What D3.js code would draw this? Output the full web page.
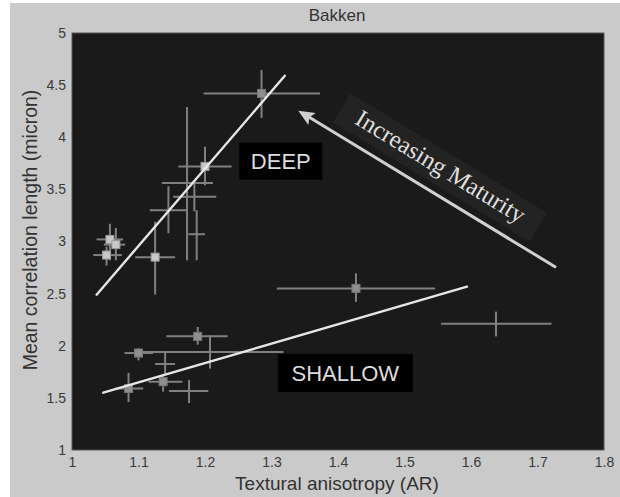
<!DOCTYPE html>
<html>
<head>
<meta charset="utf-8">
<script src="https://cdn.jsdelivr.net/npm/d3@7"></script>
<style>
  html, body { margin: 0; padding: 0; background: #ffffff; }
  svg { display: block; }
</style>
</head>
<body>
<svg id="chart" width="620" height="497"></svg>
<script>
// Deep samples: mean values and error-bar limits
const deepX    = [1.285, 1.200, 1.173, 1.184, 1.145, 1.1875, 1.125, 1.057, 1.066, 1.052];
const deepY    = [4.42, 3.72, 3.56, 3.43, 3.30, 3.07, 2.85, 3.02, 2.97, 2.87];
const deepXLo  = [1.198, 1.160, 1.135, 1.152, 1.117, 1.175, 1.095, 1.037, 1.048, 1.032];
const deepXHi  = [1.373, 1.240, 1.212, 1.217, 1.172, 1.200, 1.155, 1.077, 1.080, 1.075];
const deepYLo  = [4.185, 3.54, 2.82, 3.29, 3.08, 2.82, 2.49, 2.82, 2.82, 2.77];
const deepYHi  = [4.645, 3.91, 4.29, 3.57, 3.53, 3.30, 3.19, 3.17, 3.13, 2.95];
const deepMarked = [1, 2, 0, 0, 0, 0, 2, 2, 2, 2];

// Shallow samples
const shallowX   = [1.189, 1.100, 1.2075, 1.140, 1.137, 1.176, 1.085, 1.427, 1.6376];
const shallowY   = [2.09, 1.93, 1.94, 1.825, 1.655, 1.566, 1.59, 2.55, 2.21];
const shallowXLo = [1.142, 1.079, 1.100, 1.125, 1.115, 1.146, 1.065, 1.308, 1.555];
const shallowXHi = [1.234, 1.122, 1.318, 1.155, 1.166, 1.205, 1.107, 1.546, 1.721];
const shallowYLo = [2.01, 1.86, 1.78, 1.72, 1.56, 1.45, 1.46, 2.42, 2.09];
const shallowYHi = [2.18, 1.975, 2.10, 1.94, 1.72, 1.67, 1.74, 2.695, 2.327];
const shallowMarked = [1, 1, 0, 0, 1, 0, 1, 1, 0];

// Trend lines (end points)
const deepFitX = [1.037, 1.320];
const deepFitY = [2.49, 4.59];
const shallowFitX = [1.047, 1.594];
const shallowFitY = [1.55, 2.567];

// Maturity arrow (tail -> head)
const arrowX = [1.7263, 1.3403];
const arrowY = [2.758, 4.255];

// Axis ticks
const xTicks = [1, 1.1, 1.2, 1.3, 1.4, 1.5, 1.6, 1.7, 1.8];
const yTicks = [1, 1.5, 2, 2.5, 3, 3.5, 4, 4.5, 5];
const xTickLabels = ["1", "1.1", "1.2", "1.3", "1.4", "1.5", "1.6", "1.7", "1.8"];
const yTickLabels = ["1", "1.5", "2", "2.5", "3", "3.5", "4", "4.5", "5"];

const svg = d3.select("#chart");
const W = 620, H = 497;
const plot = { left: 72, right: 604, top: 33, bottom: 450 };

// figure background
svg.append("rect").attr("x", 10).attr("y", 3).attr("width", W - 10).attr("height", H - 3)
  .attr("fill", "#cacaca");

const x = d3.scaleLinear().domain([1, 1.8]).range([plot.left, plot.right]);
const y = d3.scaleLinear().domain([1, 5]).range([plot.bottom, plot.top]);

// axes frame
svg.append("rect")
  .attr("x", plot.left).attr("y", plot.top)
  .attr("width", plot.right - plot.left).attr("height", plot.bottom - plot.top)
  .attr("fill", "#1a1a1a").attr("stroke", "#555").attr("stroke-width", 1);

const font = "'Liberation Sans', Arial, sans-serif";

const xAxis = d3.axisBottom(x).tickValues(xTicks)
  .tickFormat((d, i) => xTickLabels[i]).tickSize(0).tickPadding(7);
const gx = svg.append("g").attr("transform", `translate(0,${plot.bottom})`).call(xAxis);
gx.select(".domain").remove();
gx.selectAll("text").attr("font-family", font).attr("font-size", 14).attr("fill", "#3a3a3a");

const yAxis = d3.axisLeft(y).tickValues(yTicks)
  .tickFormat((d, i) => yTickLabels[i]).tickSize(0).tickPadding(6);
const gy = svg.append("g").attr("transform", `translate(${plot.left},0)`).call(yAxis);
gy.select(".domain").remove();
gy.selectAll("text").attr("font-family", font).attr("font-size", 14).attr("fill", "#3a3a3a");

// title and axis titles
svg.append("text").attr("x", 337).attr("y", 21)
  .attr("text-anchor", "middle").attr("font-family", font).attr("font-size", 17)
  .attr("fill", "#333").text("Bakken");
svg.append("text").attr("x", 337).attr("y", 490)
  .attr("text-anchor", "middle").attr("font-family", font).attr("font-size", 19)
  .attr("fill", "#333").text("Textural anisotropy (AR)");
svg.append("text")
  .attr("transform", "translate(37,230) rotate(-90)")
  .attr("text-anchor", "middle").attr("font-family", font).attr("font-size", 19.5)
  .attr("fill", "#333").text("Mean correlation length (micron)");

const layer = svg.append("g");

function drawSet(xs, ys, xlo, xhi, ylo, yhi, marked) {
  const pts = xs.map((v, i) => ({ x: v, y: ys[i], xl: xlo[i], xh: xhi[i], yl: ylo[i], yh: yhi[i], m: marked[i] }));
  const g = layer.append("g");
  g.selectAll("line.h").data(pts).join("line")
    .attr("x1", d => x(d.xl)).attr("x2", d => x(d.xh))
    .attr("y1", d => y(d.y)).attr("y2", d => y(d.y))
    .attr("stroke", "#808080").attr("stroke-width", 2);
  g.selectAll("line.v").data(pts).join("line")
    .attr("x1", d => x(d.x)).attr("x2", d => x(d.x))
    .attr("y1", d => y(d.yl)).attr("y2", d => y(d.yh))
    .attr("stroke", "#808080").attr("stroke-width", 2);
  g.selectAll("rect.mk").data(pts.filter(d => d.m > 0)).join("rect")
    .attr("x", d => x(d.x) - 4).attr("y", d => y(d.y) - 4)
    .attr("width", 8).attr("height", 8)
    .attr("fill", d => d.m === 2 ? "#c8c8c8" : "#8e8e8e")
    .attr("stroke", d => d.m === 2 ? "#9a9a9a" : "#777")
    .attr("stroke-width", 1);
}

drawSet(deepX, deepY, deepXLo, deepXHi, deepYLo, deepYHi, deepMarked);
drawSet(shallowX, shallowY, shallowXLo, shallowXHi, shallowYLo, shallowYHi, shallowMarked);

// trend lines
[[deepFitX, deepFitY], [shallowFitX, shallowFitY]].forEach(([fx, fy]) => {
  layer.append("line")
    .attr("x1", x(fx[0])).attr("y1", y(fy[0]))
    .attr("x2", x(fx[1])).attr("y2", y(fy[1]))
    .attr("stroke", "#e6e6e6").attr("stroke-width", 2.4).attr("stroke-linecap", "round");
});

// group labels in black boxes
function boxLabel(cx, cy, w, h, txt) {
  const px = x(cx), py = y(cy);
  layer.append("rect").attr("x", px - w / 2).attr("y", py - h / 2)
    .attr("width", w).attr("height", h).attr("fill", "#000");
  layer.append("text").attr("x", px).attr("y", py + 8)
    .attr("text-anchor", "middle").attr("font-family", font).attr("font-size", 22)
    .attr("fill", "#dcdcdc").text(txt);
}
boxLabel(1.314, 3.77, 83, 37, "DEEP");
boxLabel(1.411, 1.74, 135, 38, "SHALLOW");

// maturity arrow with its caption
const ax0 = x(arrowX[0]), ay0 = y(arrowY[0]), ax1 = x(arrowX[1]), ay1 = y(arrowY[1]);
const ang = Math.atan2(ay0 - ay1, ax0 - ax1) * 180 / Math.PI;
const capCx = 440, capCy = 167.5;
const cap = layer.append("g").attr("transform", `translate(${capCx},${capCy}) rotate(${ang})`);
cap.append("rect").attr("x", -115).attr("y", -17).attr("width", 230).attr("height", 34)
  .attr("fill", "#232323");
cap.append("text").attr("x", 0).attr("y", 7)
  .attr("text-anchor", "middle").attr("font-family", "'Liberation Serif', 'Times New Roman', serif")
  .attr("font-size", 24.5).attr("fill", "#dedede").text("Increasing Maturity");

const dx = ax1 - ax0, dy = ay1 - ay0, len = Math.hypot(dx, dy);
const ux = dx / len, uy = dy / len;
const headLen = 16, headW = 7;
layer.append("line")
  .attr("x1", ax0).attr("y1", ay0)
  .attr("x2", ax1 - ux * headLen * 0.8).attr("y2", ay1 - uy * headLen * 0.8)
  .attr("stroke", "#cfcfcf").attr("stroke-width", 3).attr("stroke-linecap", "round");
const bx = ax1 - ux * headLen, by = ay1 - uy * headLen;
layer.append("path")
  .attr("d", d3.line()([[ax1, ay1], [bx - uy * headW, by + ux * headW], [bx + ux * 3, by + uy * 3], [bx + uy * headW, by - ux * headW]]) + "Z")
  .attr("fill", "#cfcfcf");
</script>
</body>
</html>
